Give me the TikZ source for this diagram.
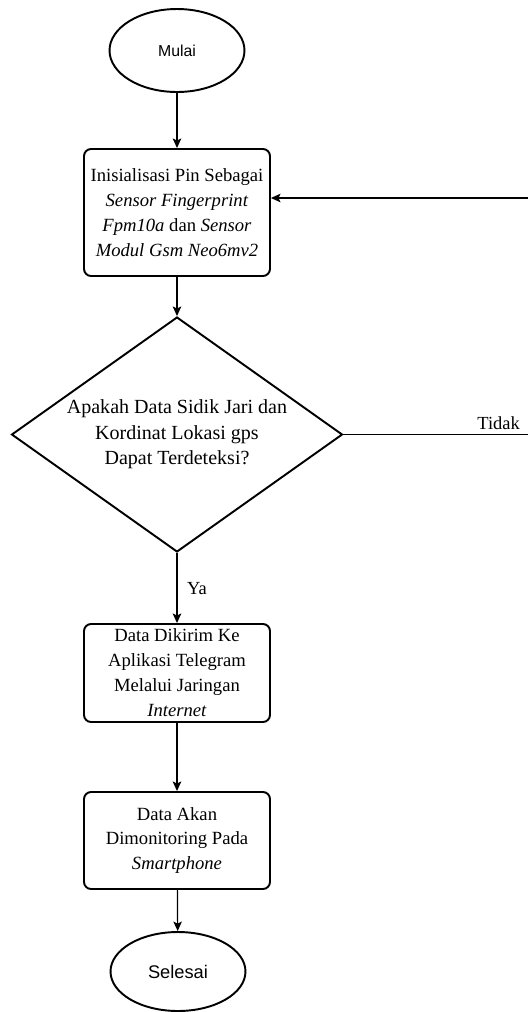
\documentclass[tikz,border=0pt]{standalone}
\usepackage{fontspec}
\setmainfont{Liberation Serif}
\setsansfont{Liberation Sans}
\usetikzlibrary{shapes.geometric,arrows.meta}

\tikzset{
  kotak/.style={draw,line width=1.1pt,rounded corners=0.14cm,minimum width=3.72cm,
    align=center,inner sep=0pt,font=\fontsize{10.6}{14.2}\selectfont},
  terminal/.style={draw,ellipse,line width=1.1pt,minimum width=2.7cm,inner sep=0pt,font=\sffamily},
  garis/.style={line width=0.7pt},
  panah/.style={garis,-{Stealth[length=1.9mm,width=1.7mm,inset=0.4mm]}}
}

\begin{document}
\begin{tikzpicture}[x=0.02cm,y=-0.02cm]
        \useasboundingbox (0,0) rectangle (528,1012);
        \node (mulai) [terminal,minimum height=1.66cm,font=\sffamily\fontsize{9}{11}\selectfont] at (177,50.5) {Mulai};
        \node (init) [kotak,minimum height=2.54cm] at (177,212.5) {Inisialisasi Pin Sebagai\\
          \textit{Sensor Fingerprint}\\ \textit{Fpm10a} dan \textit{Sensor}\\ \textit{Modul Gsm Neo6mv2}};
        \node (cek) [draw,diamond,line width=1.1pt,aspect=1.41,inner sep=0pt,minimum width=6.62cm,
          minimum height=4.7cm,align=center,font=\fontsize{11.4}{14.6}\selectfont] at (177,434.5)
          {Apakah Data Sidik Jari dan\\ Kordinat Lokasi gps\\ Dapat Terdeteksi?};
        \node (kirim) [kotak,minimum height=1.96cm] at (177,673) {Data Dikirim Ke\\ Aplikasi Telegram\\
          Melalui Jaringan\\ \textit{Internet}};
        \node (monitor) [kotak,minimum height=1.94cm] at (177,840.5) {Data Akan\\ Dimonitoring Pada\\
          \textit{Smartphone}};
        \node (selesai) [terminal,minimum height=1.58cm,font=\sffamily\fontsize{10.4}{12}\selectfont] at (178,971.5) {Selesai};
        \node (ya) [anchor=base west,font=\fontsize{10.5}{12}\selectfont] at (181,594) {Ya};
        \node (tidak) [anchor=base east,font=\fontsize{10.5}{12}\selectfont] at (526,429) {Tidak};
        \coordinate (pojokA) at (531,434.5);
        \coordinate (pojokB) at (531,198);
%        jalur utama
        \draw [panah] (mulai) to (init);
        \draw [panah] (init) to (cek);
        \draw [panah] (cek) to (kirim);
        \draw [panah] (kirim) to (monitor);
        \draw [panah] (monitor) to (selesai);
%        kembali jika tidak terdeteksi
        \draw [garis] (cek.east) to (pojokA) to (pojokB);
        \draw [panah] (pojokB) to (pojokB -| init.east);
      \end{tikzpicture}
\end{document}
